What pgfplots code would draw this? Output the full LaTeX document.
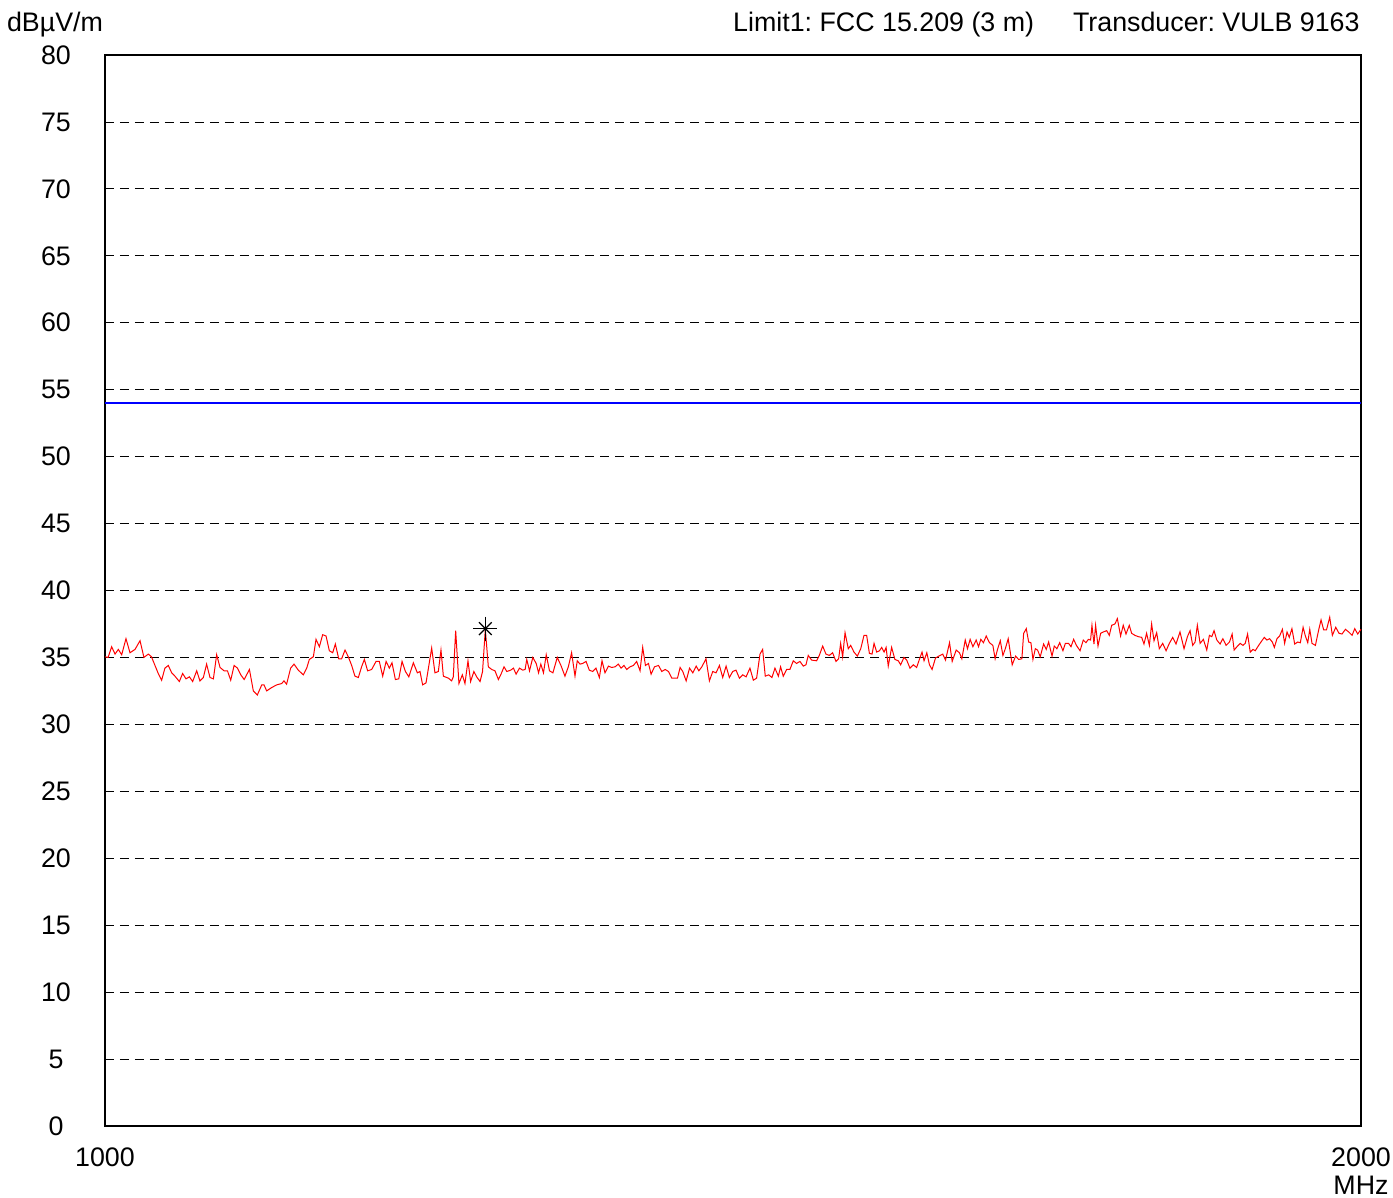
\documentclass[border=0pt]{standalone}
\usepackage{pgfplots}
\pgfplotsset{compat=1.18}
\usepackage{fontspec}
\setmainfont{Liberation Sans}
\begin{document}
\frenchspacing
\fontsize{13.4}{16}\selectfont
\begin{tikzpicture}
\begin{axis}[
  scale only axis, width=628pt, height=535.5pt,
  xmin=1000, xmax=2000, ymin=0, ymax=80,
  xtick={1000,2000}, ytick={0,5,...,80},
  major tick length=0pt,
  /pgf/number format/assume math mode=true,
  /pgf/number format/set thousands separator={},
  ymajorgrids, grid style={black, line width=0.4pt, dash pattern=on 4.5pt off 3pt},
  axis line style={black, line width=0.6pt},
  yticklabel style={anchor=center, xshift=-24.5pt, font=\fontsize{13.4}{16}\selectfont},
  xticklabel style={anchor=base, yshift=-20.5pt, font=\fontsize{13.4}{16}\selectfont},
  clip=false,
]
\addplot[blue, line width=0.6pt] coordinates {(1000,54) (2000,54)};
\addplot[red, line width=0.5pt] coordinates {
(1000,35.05)(1002.5,35.0)(1005.3,35.8)(1008,35.25)(1010.6,35.6)(1013.3,35.2)(1016.7,36.4)(1019.9,35.35)(1023.9,35.6)(1027.9,36.25)
(1031,35.0)(1034.5,35.25)(1037,35.05)(1039.8,34.4)(1042.4,33.8)(1045.1,33.3)(1047.7,34.2)(1050.4,34.4)(1053.1,33.85)(1055.7,33.6)
(1059.2,33.2)(1061.8,33.8)(1064.5,33.4)(1067.2,33.55)(1069.8,33.2)(1073,34.0)(1075.6,33.25)(1078.3,33.5)(1080.9,34.5)(1083.6,33.5)
(1086.3,33.4)(1088.9,35.2)(1091.6,34.25)(1094.8,34.0)(1097.5,34.0)(1100.1,33.3)(1102.8,34.4)(1105.5,34.2)(1108.1,33.7)(1110.8,33.35)
(1115,34.1)(1118.1,32.5)(1121.3,32.2)(1124.8,32.95)(1126.6,32.95)(1128.7,32.5)(1132.7,32.75)(1136.7,32.95)(1140.7,33.05)(1142.5,33.25)
(1144.6,33.0)(1147.8,34.2)(1150.5,34.5)(1153.9,34.05)(1157.9,33.7)(1160.6,34.2)(1162.7,34.85)(1165.9,35.05)(1168,36.35)(1170.7,35.8)
(1173.3,36.7)(1176,36.6)(1178.6,35.5)(1181.3,35.35)(1183.4,36.0)(1186.1,34.9)(1188.4,34.9)(1191.1,35.55)(1193.7,35.05)(1196.4,34.4)
(1199,33.6)(1201.7,33.5)(1204.3,34.3)(1206.5,34.85)(1209.1,34.0)(1212.3,34.1)(1215.8,34.7)(1218.4,34.7)(1221.1,33.6)(1223.8,34.7)
(1226.4,34.2)(1228.5,34.6)(1231.2,33.35)(1233.9,33.4)(1236.5,34.7)(1239.2,33.95)(1241.9,33.55)(1245.5,34.6)(1248.7,33.85)(1250.8,33.95)
(1252.9,32.95)(1255.6,33.1)(1260.1,35.7)(1262.7,33.85)(1265.4,33.95)(1267.5,35.55)
(1269.4,33.6)(1273.4,33.45)(1276,33.25)(1277.3,33.55)(1279.2,37.0)(1281.8,33.05)(1284.5,33.7)(1286.6,33.05)(1289,34.75)(1291.1,33.2)
(1293.7,33.95)(1295.9,33.55)(1298.6,33.2)(1300.6,33.95)(1302.8,37.1)(1305.2,34.3)(1307.9,34.1)(1310.5,34.0)(1313.2,33.35)(1315.3,33.75)
(1317.7,34.3)(1319.9,33.95)(1323.0,34.05)(1325.2,34.2)(1327.3,33.75)(1330,34.2)(1332.6,34.05)(1334.5,34.1)(1335.8,34.85)(1338,34.0)
(1340.6,35.0)(1343.3,34.55)(1345.2,33.85)(1347,34.5)(1349.1,33.85)(1351.3,35.2)(1353.9,34.0)(1356.6,33.85)(1360.1,35.0)(1363,34.4)
(1366.2,33.6)(1368.9,34.3)(1371.5,35.35)(1374.2,33.6)(1376,34.75)(1378.2,34.5)(1380.3,34.55)(1383,34.7)(1385.6,34.05)(1388.3,33.95)
(1390.9,34.2)(1393.6,33.5)(1395.7,34.75)(1398.1,33.85)(1400.8,34.35)(1403.4,34.25)(1406.1,34.3)(1408.7,34.5)(1410.9,34.2)(1413.2,34.4)
(1415.4,34.1)(1418,34.3)(1420.7,34.4)(1423.3,34.7)(1426,34.0)(1428.1,35.75)(1430.3,34.4)(1432.7,34.55)(1434.8,33.75)(1437.5,34.3)
(1440.7,34.4)(1443.3,33.95)(1446,34.1)(1448.6,33.95)(1451.3,33.45)(1455.8,33.45)(1457.9,34.25)(1460,33.95)(1462.7,33.25)(1465.4,34.2)
(1468,33.85)(1470.7,34.35)(1472.8,34.0)(1475.2,34.3)(1478.5,34.9)(1481.2,33.25)(1483.9,33.95)(1486.5,33.85)(1489.2,34.4)(1491.8,33.5)
(1494.5,34.35)(1497.1,33.5)(1499.8,33.95)(1502.4,34.05)(1505.1,33.45)(1507.8,33.7)(1510.4,33.55)(1513.5,34.2)(1516.2,33.3)(1518.8,33.45)
(1521.5,35.25)(1523.6,35.6)(1525.7,33.6)(1528.4,33.7)(1531,33.5)(1533.4,34.2)(1536.1,33.6)(1537.9,34.3)(1540,33.6)(1542.7,34.1)
(1545.3,34.1)(1548,34.75)(1550.6,34.55)(1553.3,34.7)(1556,34.35)(1558.1,34.45)(1559.9,35.15)(1562.6,34.8)(1566.6,34.75)(1568.7,35.15)
(1571.4,35.85)(1574,35.25)(1576.7,35.15)(1579.3,35.35)(1582,34.7)(1584.1,34.9)(1585.7,36.05)(1587.3,35.05)(1589.2,36.85)(1591.8,35.65)
(1593.7,35.9)(1596.3,35.4)(1599,35.1)(1601.7,35.65)(1604.3,36.65)(1606.4,36.65)(1608.6,35.3)(1610.7,35.25)(1612.3,36.05)(1614.4,35.4)
(1616.6,35.5)(1618.4,35.75)(1620.3,35.4)(1621.9,35.75)(1623.6,34.35)(1626.3,35.75)(1628.9,34.85)(1631.6,34.75)(1633.5,34.45)(1636.1,35.0)
(1638.3,34.8)(1640.9,34.2)(1643.6,34.45)(1646.2,34.25)(1648.4,34.85)(1650.5,35.4)(1652.1,34.75)(1654.3,35.35)(1656.4,34.45)(1658.5,34.1)
(1661.2,34.95)(1663.8,35.1)(1667,35.25)(1669.2,34.8)(1672.4,36.1)(1674.5,34.7)(1677.7,35.55)(1680.3,35.35)(1682.2,34.9)(1684.9,36.3)
(1686.7,35.65)(1688.8,36.35)(1691,35.8)(1693.6,36.3)(1695.5,35.8)(1697.3,36.35)(1699.4,36.1)(1701.6,36.6)(1704.2,36.1)(1706.9,35.9)
(1708.7,34.9)(1710.6,35.6)(1712.8,36.25)(1714.9,35.15)(1716.8,35.65)(1719.1,36.4)(1722.3,34.45)(1725,35.1)(1727.4,34.85)(1730,34.9)
(1731.4,36.8)(1733.5,37.15)(1735.4,36.15)(1737.2,36.1)(1738.8,34.85)(1740.7,35.65)(1742.5,35.55)(1744.6,35.05)(1747.3,36.0)(1749.4,35.6)
(1751.3,36.15)(1754,35.1)(1755.8,35.85)(1757.9,35.65)(1760.1,36.1)(1762.7,35.5)(1764.6,36.05)(1767.2,36.05)(1769.1,35.8)(1771.2,36.35)
(1773.4,35.9)(1776.3,35.5)(1778.9,36.3)(1781,36.1)(1782.9,36.35)(1784.7,36.3)(1785.8,37.4)(1787.4,36.0)(1788.7,37.4)(1790.6,35.85)
(1792.7,36.8)(1794.8,36.9)(1797.5,37.0)(1799.6,36.65)(1801.5,37.4)(1804.1,37.5)(1806,37.9)(1808.6,36.6)(1810.7,37.4)(1812.9,36.75)
(1815.5,37.4)(1817.4,36.8)(1820,36.65)(1822.7,36.55)(1825.4,36.5)(1827.2,36.0)(1829.3,36.8)(1831.5,35.9)(1833.3,37.5)(1835.2,36.25)
(1837.3,36.85)(1839.4,35.65)(1842.1,36.05)(1844.8,35.5)(1847.4,36.05)(1850.1,36.5)(1852.7,36.0)(1855.9,36.9)(1859.1,35.65)(1861.8,36.55)
(1863.9,37.0)(1866,35.9)(1867.9,36.15)(1869.7,37.4)(1871.9,36.05)(1874.5,36.35)(1877.2,35.55)(1879.3,36.65)(1881.2,36.55)(1883,37.0)
(1885.2,36.3)(1887.8,36.0)(1890,36.4)(1892.6,35.9)(1895.3,36.15)(1897.4,36.75)(1899,35.55)(1901.7,35.85)(1903.8,36.05)(1906,35.9)
(1907.8,36.05)(1909.7,36.75)(1911.8,35.4)(1914,35.6)(1915.8,35.5)(1918.5,35.9)(1921.1,36.25)(1923,36.5)(1925.1,36.3)(1927.2,36.4)
(1929.4,36.15)(1931,35.75)(1933.1,36.4)(1935.2,36.6)(1937.4,37.1)(1939.2,36.05)(1941.1,36.9)(1942.9,36.5)(1945,37.15)(1947.2,36.0)
(1949.6,36.15)(1951.7,36.1)(1953.9,37.25)(1955.7,36.6)(1957.6,36.1)(1959.2,37.1)(1961,36.05)(1963.7,35.9)(1966.4,37.1)(1968.2,37.8)
(1970.3,37.05)(1972.5,37.05)(1975.1,38.0)(1977.2,36.65)(1979.9,37.25)(1982.5,36.8)(1984.9,36.75)(1987.6,37.1)(1990.2,36.9)(1992.9,36.65)
(1995,37.15)(1997.4,36.75)(2000,37.1)
};
\addplot[black, only marks, mark=+, mark size=6pt, line width=0.6pt] coordinates {(1302.8,37.15)};
\addplot[black, only marks, mark=x, mark size=4.5pt, line width=0.6pt] coordinates {(1302.8,37.15)};
\node[anchor=base, inner sep=0pt, font=\fontsize{13.4}{16}\selectfont] at ([xshift=-25pt, yshift=11.5pt]rel axis cs:0,1) {dBµV/m};
\node[anchor=base east, inner sep=0pt, font=\fontsize{13.4}{16}\selectfont] at ([xshift=-0.5pt, yshift=11.5pt]rel axis cs:1,1) {Limit1: FCC 15.209 (3 m)\hspace{19.5pt}Transducer: VULB 9163};
\node[anchor=base, inner sep=0pt, font=\fontsize{13.4}{16}\selectfont] at ([yshift=-34.5pt]rel axis cs:1,0) {MHz};
\coordinate (ll) at (rel axis cs:0,0);
\coordinate (ur) at (rel axis cs:1,1);
\end{axis}
\pgfresetboundingbox
\path ([shift={(-52.5pt,-36pt)}]ll) rectangle ([shift={(16pt,27.5pt)}]ur);
\end{tikzpicture}
\end{document}
